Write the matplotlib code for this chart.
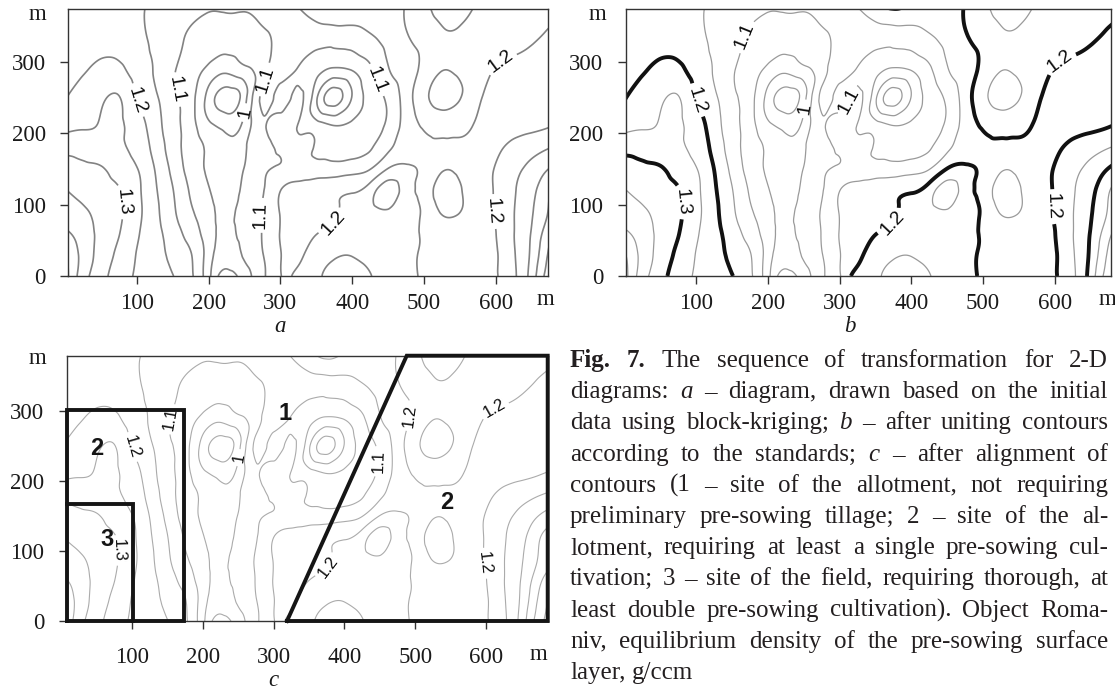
import numpy as np
import matplotlib
matplotlib.use('Agg')
import matplotlib.pyplot as plt
import matplotlib.tri as mtri
from matplotlib.font_manager import FontProperties

plt.rcParams['font.family'] = 'Liberation Sans'

# block-kriging estimate of equilibrium density (g/ccm), nodes every 25 m along x
grid_x = np.arange(0, 701, 25)
grid_y = [0, 30, 60, 90, 120, 150, 180, 210, 250, 290, 330, 380]
density = [
    [1.47, 1.372, 1.317, 1.276, 1.244, 1.222, 1.201, 1.16, 1.065, 0.975, 1.026, 1.09, 1.146, 1.225, 1.241,
     1.27, 1.275, 1.252, 1.233, 1.213, 1.195, 1.185, 1.18, 1.185, 1.195, 1.241, 1.321, 1.43, 1.5],
    [1.455, 1.383, 1.331, 1.287, 1.248, 1.219, 1.189, 1.153, 1.075, 1.02, 1.058, 1.098, 1.148, 1.187, 1.225,
     1.245, 1.248, 1.238, 1.225, 1.21, 1.195, 1.183, 1.178, 1.183, 1.195, 1.245, 1.31, 1.41, 1.48],
    [1.41, 1.374, 1.337, 1.302, 1.257, 1.216, 1.175, 1.128, 1.073, 1.038, 1.067, 1.102, 1.152, 1.175, 1.198,
     1.215, 1.225, 1.228, 1.228, 1.215, 1.195, 1.18, 1.175, 1.18, 1.199, 1.248, 1.303, 1.385, 1.44],
    [1.375, 1.357, 1.335, 1.308, 1.265, 1.213, 1.16, 1.107, 1.066, 1.038, 1.07, 1.104, 1.152, 1.166, 1.18,
     1.194, 1.215, 1.235, 1.245, 1.225, 1.19, 1.146, 1.149, 1.175, 1.205, 1.248, 1.295, 1.355, 1.4],
    [1.352, 1.335, 1.319, 1.303, 1.263, 1.207, 1.152, 1.094, 1.053, 1.03, 1.061, 1.096, 1.149, 1.17, 1.18,
     1.19, 1.195, 1.225, 1.275, 1.225, 1.18, 1.13, 1.145, 1.175, 1.205, 1.245, 1.285, 1.345, 1.39],
    [1.32, 1.312, 1.304, 1.281, 1.252, 1.199, 1.137, 1.08, 1.042, 1.025, 1.052, 1.092, 1.105, 1.115, 1.12,
     1.12, 1.13, 1.148, 1.202, 1.21, 1.19, 1.155, 1.162, 1.18, 1.203, 1.235, 1.265, 1.302, 1.33],
    [1.285, 1.28, 1.27, 1.259, 1.233, 1.184, 1.126, 1.075, 1.042, 1.015, 1.045, 1.079, 1.108, 1.112, 1.096,
     1.085, 1.08, 1.095, 1.14, 1.17, 1.19, 1.19, 1.19, 1.185, 1.19, 1.213, 1.23, 1.248, 1.265],
    [1.235, 1.245, 1.255, 1.258, 1.223, 1.174, 1.12, 1.07, 1.013, 0.985, 1.017, 1.092, 1.12, 1.098, 1.075,
     1.052, 1.06, 1.08, 1.11, 1.17, 1.205, 1.215, 1.21, 1.195, 1.185, 1.185, 1.19, 1.198, 1.21],
    [1.197, 1.222, 1.24, 1.252, 1.199, 1.158, 1.112, 1.068, 0.98, 0.928, 0.98, 1.11, 1.085, 1.11, 1.01,
     0.928, 1.003, 1.066, 1.111, 1.174, 1.236, 1.27, 1.253, 1.21, 1.185, 1.18, 1.18, 1.18, 1.18],
    [1.18, 1.195, 1.208, 1.208, 1.178, 1.147, 1.108, 1.073, 1.04, 1.015, 1.04, 1.079, 1.12, 1.098, 1.07,
     1.045, 1.055, 1.093, 1.147, 1.175, 1.215, 1.248, 1.24, 1.22, 1.198, 1.19, 1.185, 1.19, 1.19],
    [1.175, 1.18, 1.185, 1.182, 1.165, 1.14, 1.114, 1.092, 1.075, 1.07, 1.075, 1.09, 1.112, 1.115, 1.115,
     1.115, 1.12, 1.14, 1.165, 1.195, 1.215, 1.24, 1.24, 1.225, 1.215, 1.21, 1.203, 1.195, 1.19],
    [1.17, 1.17, 1.17, 1.165, 1.155, 1.145, 1.13, 1.118, 1.108, 1.112, 1.108, 1.12, 1.135, 1.152, 1.185,
     1.215, 1.195, 1.185, 1.19, 1.202, 1.235, 1.28, 1.275, 1.245, 1.23, 1.22, 1.215, 1.21, 1.205],
]
levels = [0.95, 1.0, 1.05, 1.1, 1.15, 1.2, 1.25, 1.3, 1.35, 1.4, 1.45]
standard_levels = [1.2, 1.3]

# label anchors (m) for each panel, by contour level
labels_a = {1.0: [(244, 230)],
            1.1: [(155, 261), (279, 275), (436, 275), (272, 85)],
            1.2: [(100, 246), (372, 76), (604, 305), (590, 90)],
            1.3: [(84, 104)]}
labels_b = {1.0: [(245, 235)],
            1.1: [(170, 335), (321, 242)],
            1.2: [(100, 246), (370, 78), (604, 305), (593, 97)],
            1.3: [(84, 104)]}
labels_c = {1.0: [(253, 233)],
            1.1: [(450, 228), (160, 287)],
            1.2: [(112, 251), (488, 294), (615, 297), (377, 77), (601, 83)],
            1.3: [(90, 101)]}

# aligned sites in panel c
zone2_left_x = [8, 8, 173, 173, 8]
zone2_left_y = [0, 301, 301, 0, 0]
zone3_x = [8, 102, 102]
zone3_y = [167, 167, 0]
zone2_right_x = [319, 488, 687, 687, 319]
zone2_right_y = [0, 379, 379, 0, 0]
zone_names = ['1', '2', '2', '3']
zone_name_x = [316, 544, 51, 65]
zone_name_y = [297, 169, 247, 116]

caption_lines = [
    "**Fig.** **7.** The sequence of transformation for 2-D",
    "diagrams: *a* – diagram, drawn based on the initial",
    "data using block-kriging; *b* – after uniting contours",
    "according to the standards; *c* – after alignment of",
    "contours (1 – site of the allotment, not requiring",
    "preliminary pre-sowing tillage; 2 – site of the al-",
    "lotment, requiring at least a single pre-sowing cul-",
    "tivation; 3 – site of the field, requiring thorough, at",
    "least double pre-sowing cultivation). Object Roma-",
    "niv, equilibrium density of the pre-sowing surface",
    "layer, g/ccm",
]

# smooth field on a refined triangulation
gx, gy = np.meshgrid(grid_x, grid_y)
nx, ny = len(grid_x), len(grid_y)
idx = np.arange(nx * ny).reshape(ny, nx)
p00 = idx[:-1, :-1].ravel()
p10 = idx[:-1, 1:].ravel()
p11 = idx[1:, 1:].ravel()
p01 = idx[1:, :-1].ravel()
triangles = np.concatenate([np.c_[p00, p10, p11], np.c_[p00, p11, p01]])
tri = mtri.Triangulation(gx.ravel().astype(float), gy.ravel().astype(float), triangles)
refiner = mtri.UniformTriRefiner(tri)
tri_f, z_f = refiner.refine_field(np.asarray(density).ravel(), subdiv=4)

W, H = 1115, 690
fig = plt.figure(figsize=(W / 100, H / 100), dpi=100)
fig.patch.set_facecolor('white')


def px_axes(left, top, right, bottom):
    return fig.add_axes([left / W, 1 - bottom / H, (right - left) / W, (bottom - top) / H])


def fmt(v):
    return f"{v:g}"


def frame(ax, xlim, ylim, xpad):
    ax.set_xlim(*xlim)
    ax.set_ylim(*ylim)
    ax.set_xticks([100, 200, 300, 400, 500, 600], ['100', '200', '300', '400', '500', '600'],
                  fontfamily='Liberation Serif', fontsize=16.5, color='#1a1a1a')
    ax.set_yticks([0, 100, 200, 300], ['0', '100', '200', '300'],
                  fontfamily='Liberation Serif', fontsize=16.5, color='#1a1a1a')
    ax.tick_params(axis='both', direction='out', length=5.5, width=1, color='#333333')
    ax.tick_params(axis='x', pad=xpad)
    ax.tick_params(axis='y', pad=10.5)
    for s in ax.spines.values():
        s.set_color('#333333')
        s.set_linewidth(1.0)


def isolines(ax, lev, color, lw, labels, fs):
    cs = ax.tricontour(tri_f, z_f, levels=[lev], colors=color, linewidths=lw)
    if lev in labels:
        ax.clabel(cs, manual=labels[lev], fmt=fmt, fontsize=fs, colors='#0d0d0d',
                  inline=True, inline_spacing=4)


ax_a = px_axes(68, 9, 548, 276)
ax_b = px_axes(625.7, 9, 1110.7, 276)
ax_c = px_axes(66.7, 355.7, 547.7, 621)

# a - initial kriging diagram
frame(ax_a, (4, 673), (0, 374), 6.5)
for lev in levels:
    isolines(ax_a, lev, '#828282', 1.2, labels_a, 14)

# b - contours united by the standards
frame(ax_b, (1.5, 678), (0, 374), 6.5)
for lev in levels:
    if lev in standard_levels:
        isolines(ax_b, lev, '#111111', 2.8, labels_b, 14)
    else:
        isolines(ax_b, lev, '#9a9a9a', 0.9, labels_b, 14)

# c - aligned contours with the allotment sites
frame(ax_c, (8, 687), (0, 379), 13)
for lev in levels:
    isolines(ax_c, lev, '#ababab', 0.8, labels_c, 12)
for zx, zy in [(zone2_left_x, zone2_left_y), (zone3_x, zone3_y), (zone2_right_x, zone2_right_y)]:
    ax_c.plot(zx, zy, color='#151515', lw=2.8, solid_joinstyle='miter', clip_on=False, zorder=5)
for name, zx, zy in zip(zone_names, zone_name_x, zone_name_y):
    ax_c.text(zx, zy, name, fontsize=17, fontweight='bold', ha='center', va='center',
              color='#151515', zorder=6)

# axis unit marks and panel letters
serif = dict(family='Liberation Serif', fontsize=16.5, color='#1a1a1a', ha='center', va='center')
for xm, ym in [(37.5, 14), (597, 15), (37.5, 359), (545, 300), (1107, 300), (538, 654)]:
    fig.text(xm / W, 1 - ym / H, 'm', **serif)
for letter, xm, ym in [('a', 280, 327), ('b', 850, 327), ('c', 273, 681)]:
    fig.text(xm / W, 1 - ym / H, letter, style='italic', **serif)

# justified caption
renderer = fig.canvas.get_renderer()
cap_left, cap_right = 570, 1108
cap_size = 18
for i, line in enumerate(caption_lines):
    words = []
    for tok in line.split(' '):
        if tok.startswith('**'):
            words.append((tok.strip('*'), 'bold', 'normal'))
        elif tok.startswith('*'):
            words.append((tok.strip('*'), 'normal', 'italic'))
        else:
            words.append((tok, 'normal', 'normal'))
    props = [FontProperties(family='Liberation Serif', size=cap_size, weight=w, style=s)
             for _, w, s in words]
    widths = [renderer.get_text_width_height_descent(t, p, ismath=False)[0]
              for (t, _, _), p in zip(words, props)]
    if i < len(caption_lines) - 1:
        gap = (cap_right - cap_left - sum(widths)) / (len(words) - 1)
    else:
        gap = 0.25 * cap_size * 100 / 72
    x = cap_left
    y = 1 - (367 + 31.2 * i) / H
    for (t, _, _), wd, p in zip(words, widths, props):
        fig.text(x / W, y, t, fontproperties=p, ha='left', va='baseline', color='#231f20')
        x += wd + gap

fig.savefig('out.png', dpi=100)
